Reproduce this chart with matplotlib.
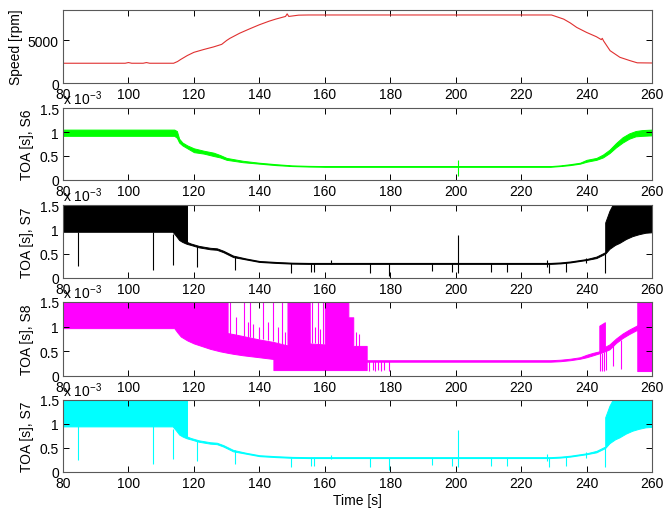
import numpy as np
import matplotlib.pyplot as plt

plt.rcParams['font.family'] = ['Liberation Sans', 'DejaVu Sans']
plt.rcParams['font.size'] = 10
plt.rcParams['mathtext.default'] = 'regular'

# ---- data (TOA values in units of 1e-3 s) ----
speed_t = [80, 99, 100, 101, 104.5, 105.5, 106.5, 113.8, 115, 116, 118, 120, 123, 126, 128.5, 130, 131,
           134, 137, 140, 143, 145, 148, 148.5, 149, 152, 155, 229.3, 231, 233, 235, 237, 240, 243,
           244.5, 244.8, 245.2, 247.2, 250.2, 253.3, 255.5, 260]
speed_rpm = [2300, 2300, 2380, 2300, 2300, 2380, 2300, 2300, 2500, 2750, 3200, 3570, 3900, 4200, 4500,
             4950, 5200, 5800, 6300, 6780, 7200, 7440, 7750, 8050, 7750, 7900, 7920, 7920, 7700, 7440,
             7000, 6470, 5890, 5390, 5050, 5200, 4900, 3760, 2990, 2600, 2350, 2330]

# S6: lower / upper envelope of the dense trace
s6_t = [80, 114, 114.8, 115.5, 116.5, 118, 120, 123, 126, 128, 130, 135, 140, 145, 150, 155, 160, 229,
        232, 235, 238, 240, 243, 245, 247, 249, 251, 253, 255, 257, 260]
s6_lo = [0.92, 0.92, 0.88, 0.78, 0.72, 0.66, 0.58, 0.55, 0.50, 0.47, 0.42, 0.37, 0.34, 0.31, 0.29, 0.28,
         0.275, 0.275, 0.29, 0.31, 0.34, 0.38, 0.42, 0.47, 0.56, 0.68, 0.78, 0.86, 0.91, 0.92, 0.93]
s6_hi = [1.05, 1.05, 1.02, 0.86, 0.78, 0.72, 0.66, 0.61, 0.57, 0.52, 0.46, 0.40, 0.36, 0.33, 0.305, 0.295,
         0.29, 0.29, 0.305, 0.33, 0.36, 0.42, 0.46, 0.53, 0.63, 0.77, 0.89, 0.97, 1.02, 1.04, 1.05]
s6_spk_t = [200.8]
s6_spk_lo = [0.08]
s6_spk_hi = [0.42]

# S7 (same sensor shown in panels 3 and 5)
s7_t = [80, 113.5, 114.5, 115.5, 116.5, 117.5, 117.9, 117.9, 119, 121.5, 125, 127, 129, 132, 136, 140,
        145, 150, 155, 229, 232, 235, 238, 240, 243, 245.7, 245.7, 247, 248.7, 250, 252, 254, 256, 258, 260]
s7_lo = [0.95, 0.95, 0.87, 0.78, 0.74, 0.71, 0.70, 0.70, 0.68, 0.63, 0.59, 0.58, 0.53, 0.43, 0.38, 0.33,
         0.31, 0.295, 0.29, 0.29, 0.30, 0.32, 0.35, 0.37, 0.41, 0.50, 0.50, 0.60, 0.68, 0.72, 0.80, 0.86,
         0.90, 0.93, 0.94]
s7_hi = [1.6, 1.6, 1.6, 1.6, 1.6, 1.6, 1.6, 0.74, 0.71, 0.66, 0.62, 0.61, 0.56, 0.46, 0.40, 0.35,
         0.33, 0.315, 0.31, 0.31, 0.32, 0.34, 0.37, 0.39, 0.44, 0.53, 1.14, 1.38, 1.6, 1.6, 1.6, 1.6,
         1.6, 1.6, 1.6]
s7_spk_t = [84.7, 107.6, 113.7, 120.9, 132.7, 149.7, 155.8, 156.8, 162.0, 173.8, 179.7, 192.7, 198.8,
            200.8, 210.8, 215.6, 227.8, 228.6, 233.7, 239.8, 245.7]
s7_spk_lo = [0.24, 0.16, 0.27, 0.22, 0.16, 0.11, 0.13, 0.13, 0.28, 0.10, 0.05, 0.15, 0.12, 0.10, 0.12,
             0.13, 0.22, 0.10, 0.12, 0.30, 0.10]
s7_spk_hi = [0.95, 0.95, 0.90, 0.65, 0.45, 0.30, 0.30, 0.30, 0.36, 0.30, 0.30, 0.30, 0.30, 0.88, 0.30,
             0.30, 0.38, 0.30, 0.32, 0.42, 0.50]

# S8
s8_t = [80, 114, 115, 116, 118, 120, 125, 128, 130.3, 130.3, 132, 135, 140, 144.3, 144.3, 148.6, 148.6,
        155.4, 155.4, 160.0, 160.0, 167.2, 167.2, 168.7, 168.7, 172.8, 172.8, 180, 229, 232, 235, 238,
        240, 242, 243.9, 243.9, 245.6, 245.6, 247, 249, 251, 253, 255.3, 255.5, 255.5, 260]
s8_lo = [0.97, 0.97, 0.88, 0.80, 0.72, 0.66, 0.55, 0.50, 0.47, 0.47, 0.45, 0.42, 0.38, 0.345, 0.12, 0.12,
         0.12, 0.12, 0.12, 0.12, 0.12, 0.12, 0.12, 0.12, 0.12, 0.12, 0.29, 0.29, 0.29, 0.30, 0.32, 0.35,
         0.38, 0.42, 0.46, 0.46, 0.50, 0.50, 0.54, 0.67, 0.77, 0.85, 0.93, 0.93, 0.10, 0.10]
s8_hi = [1.6, 1.6, 1.6, 1.6, 1.6, 1.6, 1.6, 1.6, 1.6, 0.87, 0.85, 0.81, 0.74, 0.69, 0.69, 0.62, 1.6,
         1.6, 0.66, 0.64, 1.6, 1.6, 1.19, 1.19, 0.61, 0.61, 0.32, 0.32, 0.32, 0.33, 0.35, 0.38,
         0.43, 0.47, 0.50, 1.02, 1.09, 0.59, 0.64, 0.76, 0.86, 0.94, 1.02, 1.02, 1.6, 1.6]
s8_spk_t = [131.0, 133.0, 135.2, 136.4, 137.3, 138.0, 139.8, 141.2, 142.8, 144.2, 145.6, 147.0, 147.8,
            156.2, 157.0, 157.8, 158.6, 159.4, 169.5, 170.5,
            173.6, 174.6, 175.5, 176.4, 177.3, 178.2, 179.7,
            244.0, 244.6, 245.2, 245.9, 248.0, 250.4]
s8_spk_lo = [0.86, 0.84, 0.81, 0.80, 0.79, 0.78, 0.76, 0.74, 0.72, 0.70, 0.67, 0.65, 0.63,
             0.66, 0.66, 0.65, 0.65, 0.64, 0.61, 0.61,
             0.11, 0.12, 0.11, 0.13, 0.11, 0.12, 0.10,
             0.10, 0.10, 0.10, 0.12, 0.20, 0.15]
s8_spk_hi = [1.5, 1.2, 1.5, 1.1, 1.5, 1.05, 1.0, 1.5, 1.1, 1.5, 1.0, 1.5, 0.9,
             1.5, 1.0, 1.5, 0.95, 1.5, 0.9, 0.85,
             0.30, 0.30, 0.30, 0.30, 0.30, 0.30, 0.30,
             0.46, 0.47, 0.49, 0.52, 0.62, 0.72]

xticks = [80, 100, 120, 140, 160, 180, 200, 220, 240, 260]
toa_ticks = [0, 0.5, 1, 1.5]
toa_labels = ['0', '0.5', '1', '1.5']

# axes boxes in figure fractions (left, bottom, width, height)
left, width = 63 / 666, 589 / 666
boxes = [(11, 84), (109, 181), (206, 279), (303, 377), (401, 473)]

fig = plt.figure(figsize=(6.66, 5.10), dpi=100)
axes = []
for top, bot in boxes:
    ax = fig.add_axes([left, 1 - bot / 510, width, (bot - top) / 510])
    ax.set_xlim(80, 260)
    ax.set_xticks(xticks)
    ax.tick_params(direction='in', top=True, right=True, length=4, width=0.7, pad=3, colors='black')
    for s in ax.spines.values():
        s.set_color('0.35')
        s.set_linewidth(0.8)
    axes.append(ax)


def toa_panel(ax, t, lo, hi, spk_t, spk_lo, spk_hi, color, label):
    ax.fill_between(t, lo, hi, color=color, lw=0.7)
    ax.vlines(spk_t, spk_lo, spk_hi, color=color, lw=0.8)
    ax.set_ylim(0, 1.5)
    ax.set_yticks(toa_ticks, toa_labels)
    ax.set_ylabel(label)
    ax.yaxis.set_label_coords(-0.05, 0.5)
    ax.text(0, 1.015, r'x 10$^{-3}$', transform=ax.transAxes, ha='left', va='bottom')


ax = axes[0]
ax.plot(speed_t, speed_rpm, color='#e03030', lw=0.8)
ax.set_ylim(0, 8500)
ax.set_yticks([0, 5000])
ax.set_ylabel('Speed [rpm]')
ax.yaxis.set_label_coords(-0.068, 0.5)

toa_panel(axes[1], s6_t, s6_lo, s6_hi, s6_spk_t, s6_spk_lo, s6_spk_hi, '#00ff00', 'TOA [s], S6')
toa_panel(axes[2], s7_t, s7_lo, s7_hi, s7_spk_t, s7_spk_lo, s7_spk_hi, 'black', 'TOA [s], S7')
toa_panel(axes[3], s8_t, s8_lo, s8_hi, s8_spk_t, s8_spk_lo, s8_spk_hi, '#ff00ff', 'TOA [s], S8')
toa_panel(axes[4], s7_t, s7_lo, s7_hi, s7_spk_t, s7_spk_lo, s7_spk_hi, '#00ffff', 'TOA [s], S7')

axes[4].set_xlabel('Time [s]', labelpad=2)

fig.savefig('out.png', dpi=100)
